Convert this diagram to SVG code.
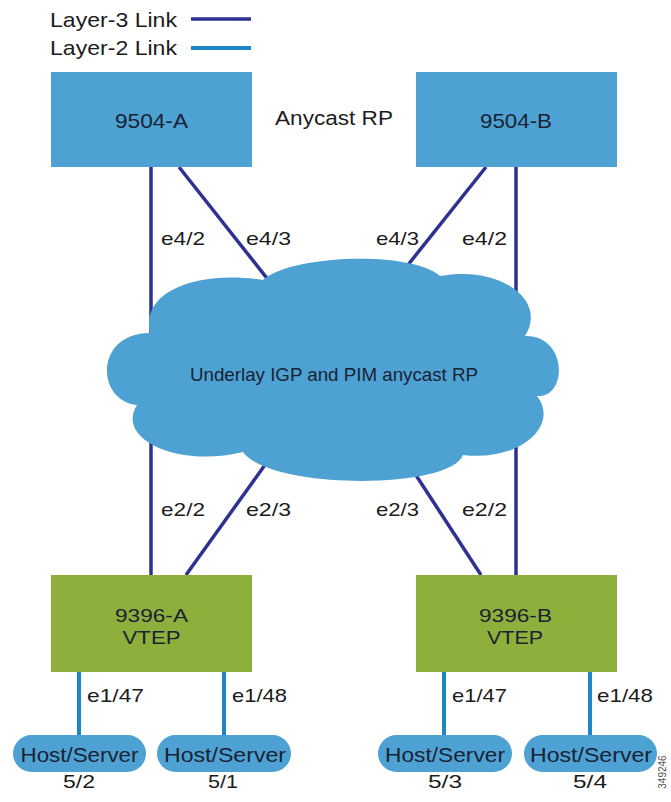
<svg xmlns="http://www.w3.org/2000/svg" width="671" height="802" viewBox="0 0 671 802">
<style>
text{font-family:"Liberation Sans",Arial,sans-serif;fill:#1c1c1c}
.lbl{font-size:19px}
.box{fill:#4da2d3}
.vtep{fill:#8cb03b}
.host{fill:#4da2d3}
.l3{stroke:#2e3192;stroke-width:3.5;fill:none}
.l2{stroke:#1d86c6;stroke-width:4;fill:none}
.nt{font-size:21px;fill:#1a2233;text-anchor:middle}
.vt{font-size:19px;fill:#1a2233;text-anchor:middle}
.ht{font-size:21px;fill:#1a2233;text-anchor:middle}
.pt{font-size:19px;text-anchor:middle}
</style>
<rect width="671" height="802" fill="#ffffff"/>
<g id="legend">
<text x="50" y="27" font-size="21" textLength="127" lengthAdjust="spacingAndGlyphs">Layer-3 Link</text>
<line class="l3" x1="191" y1="19" x2="251" y2="19"/>
<text x="50" y="55" font-size="21" textLength="127" lengthAdjust="spacingAndGlyphs">Layer-2 Link</text>
<line class="l2" x1="191" y1="48" x2="251" y2="48"/>
</g>
<g id="connectors">
<line class="l3" x1="151" y1="167" x2="151" y2="575"/>
<line class="l3" x1="179" y1="167" x2="300" y2="320"/>
<line class="l3" x1="486" y1="167" x2="380" y2="300"/>
<line class="l3" x1="516" y1="167" x2="516" y2="575"/>
<line class="l3" x1="290" y1="430" x2="186" y2="575"/>
<line class="l3" x1="380" y1="420" x2="481" y2="575"/>
<line class="l2" x1="79" y1="672" x2="79" y2="736"/>
<line class="l2" x1="224" y1="672" x2="224" y2="736"/>
<line class="l2" x1="444" y1="672" x2="444" y2="736"/>
<line class="l2" x1="590" y1="672" x2="590" y2="736"/>
<text class="lbl" x="161" y="245" textLength="44" lengthAdjust="spacingAndGlyphs">e4/2</text>
<text class="lbl" x="246" y="245" textLength="45" lengthAdjust="spacingAndGlyphs">e4/3</text>
<text class="lbl" x="376" y="245" textLength="43" lengthAdjust="spacingAndGlyphs">e4/3</text>
<text class="lbl" x="462" y="245" textLength="45" lengthAdjust="spacingAndGlyphs">e4/2</text>
<text class="lbl" x="161" y="516" textLength="44" lengthAdjust="spacingAndGlyphs">e2/2</text>
<text class="lbl" x="246" y="516" textLength="45" lengthAdjust="spacingAndGlyphs">e2/3</text>
<text class="lbl" x="376" y="516" textLength="43" lengthAdjust="spacingAndGlyphs">e2/3</text>
<text class="lbl" x="462" y="516" textLength="45" lengthAdjust="spacingAndGlyphs">e2/2</text>
<text class="lbl" x="87" y="702" textLength="57" lengthAdjust="spacingAndGlyphs">e1/47</text>
<text class="lbl" x="232" y="702" textLength="55" lengthAdjust="spacingAndGlyphs">e1/48</text>
<text class="lbl" x="452" y="702" textLength="55" lengthAdjust="spacingAndGlyphs">e1/47</text>
<text class="lbl" x="597" y="702" textLength="56" lengthAdjust="spacingAndGlyphs">e1/48</text>
</g>
<g id="cloud">
<path class="box" d="M150,333 C140,290 200,270 263,280 C290,255 410,250 440,276 C500,265 548,300 525,336 C568,335 568,398 537,396 C560,425 520,462 463,455 C450,490 270,490 243,452 C180,468 115,440 137,405 C95,400 95,333 150,333 Z"/>
<text x="334" y="381" font-size="18.5" text-anchor="middle" textLength="288" lengthAdjust="spacingAndGlyphs" style="fill:#1a2233">Underlay IGP and PIM anycast RP</text>
</g>
<g id="anycast-label">
<text x="275" y="125" font-size="20" textLength="118" lengthAdjust="spacingAndGlyphs">Anycast RP</text>
</g>
<g id="n9504A">
<rect class="box" x="51" y="72" width="201" height="95"/>
<text class="nt" x="151.5" y="128" textLength="73" lengthAdjust="spacingAndGlyphs">9504-A</text>
</g>
<g id="n9504B">
<rect class="box" x="416" y="72" width="201" height="95"/>
<text class="nt" x="516" y="128" textLength="72" lengthAdjust="spacingAndGlyphs">9504-B</text>
</g>
<g id="n9396A">
<rect class="vtep" x="51" y="575" width="201" height="97"/>
<text class="vt" x="151.5" y="622" textLength="73" lengthAdjust="spacingAndGlyphs">9396-A</text>
<text class="vt" x="151.5" y="644" textLength="58" lengthAdjust="spacingAndGlyphs">VTEP</text>
</g>
<g id="n9396B">
<rect class="vtep" x="416" y="575" width="201" height="97"/>
<text class="vt" x="515.5" y="622" textLength="73" lengthAdjust="spacingAndGlyphs">9396-B</text>
<text class="vt" x="515" y="644" textLength="56" lengthAdjust="spacingAndGlyphs">VTEP</text>
</g>
<g id="host1">
<rect class="host" x="13" y="735" width="133" height="37" rx="18.5"/>
<text class="ht" x="79.5" y="762" textLength="118" lengthAdjust="spacingAndGlyphs">Host/Server</text>
<text class="pt" x="79" y="788" textLength="32" lengthAdjust="spacingAndGlyphs">5/2</text>
</g>
<g id="host2">
<rect class="host" x="157" y="735" width="134" height="37" rx="18.5"/>
<text class="ht" x="225" y="762" textLength="122" lengthAdjust="spacingAndGlyphs">Host/Server</text>
<text class="pt" x="223" y="788" textLength="30" lengthAdjust="spacingAndGlyphs">5/1</text>
</g>
<g id="host3">
<rect class="host" x="378" y="735" width="134" height="37" rx="18.5"/>
<text class="ht" x="445" y="762" textLength="120" lengthAdjust="spacingAndGlyphs">Host/Server</text>
<text class="pt" x="445" y="788" textLength="34" lengthAdjust="spacingAndGlyphs">5/3</text>
</g>
<g id="host4">
<rect class="host" x="524" y="735" width="133" height="37" rx="18.5"/>
<text class="ht" x="591" y="762" textLength="122" lengthAdjust="spacingAndGlyphs">Host/Server</text>
<text class="pt" x="590" y="788" textLength="34" lengthAdjust="spacingAndGlyphs">5/4</text>
</g>
<g id="figure-id">
<text x="0" y="0" font-size="10" text-anchor="middle" transform="translate(666,772) rotate(-90)" style="fill:#555">349246</text>
</g>
</svg>
